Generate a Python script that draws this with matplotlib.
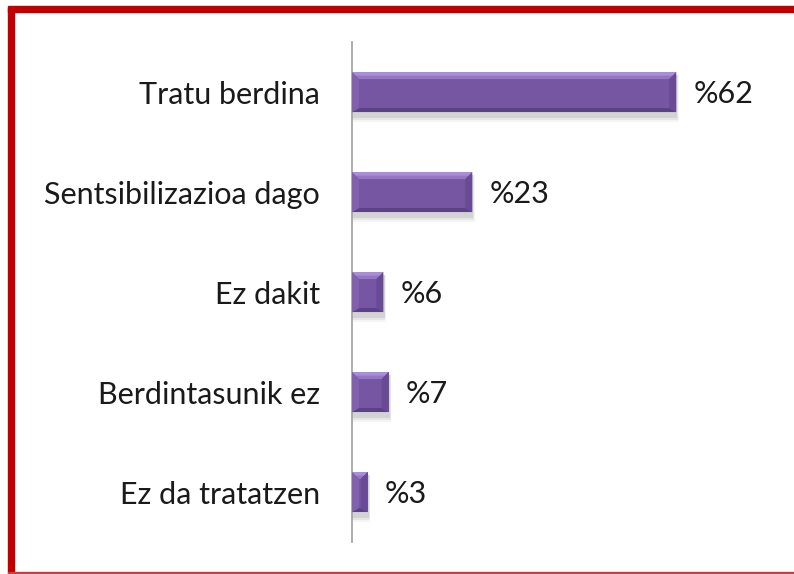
import matplotlib.pyplot as plt
from matplotlib.patches import Polygon, Rectangle

categories = ['Tratu berdina', 'Sentsibilizazioa dago', 'Ez dakit',
              'Berdintasunik ez', 'Ez da tratatzen']
values = [62, 23, 6, 7, 3]
value_labels = ['%62', '%23', '%6', '%7', '%3']

plt.rcParams['font.family'] = ['Lato', 'DejaVu Sans']

fig = plt.figure(figsize=(7.94, 5.74), dpi=100)
ax = fig.add_axes([0.4433, 0.0557, 0.527, 0.871])

pos = list(range(len(categories)))
h = 0.4
xmax = 80

# px -> data units for the bevel
px_x = xmax / (0.527 * 794)
px_y = 1 / 100.0

# soft shadow under each bar
for i, v in zip(pos, values):
    for k, a in [(7, 0.04), (5, 0.06), (3, 0.08)]:
        ax.add_patch(Rectangle((0, i - h / 2 + 3 * px_y), v + k * 0.4 * px_x, h + k * px_y,
                               color='#000000', alpha=a, lw=0, zorder=1))

ax.barh(pos, values, height=h, color='#7656a2', zorder=2)

for i, v in zip(pos, values):
    top = i - h / 2
    bot = i + h / 2
    bx = min(7 * px_x, v / 2)
    by = 7 * px_y
    bb = 4 * px_y
    # top bevel (light), two tones
    ax.add_patch(Polygon([(0, top), (v, top), (v - bx, top + by), (bx, top + by)],
                         closed=True, color='#9576c4', lw=0, zorder=3))
    ax.add_patch(Polygon([(0, top), (v, top), (v - bx / 2, top + by / 2), (bx / 2, top + by / 2)],
                         closed=True, color='#ab8ed8', lw=0, zorder=3))
    # bottom bevel (dark)
    ax.add_patch(Polygon([(0, bot), (v, bot), (v - bx, bot - bb), (bx, bot - bb)],
                         closed=True, color='#5a4283', lw=0, zorder=3))
    # left bevel
    ax.add_patch(Polygon([(0, top), (bx, top + by), (bx, bot - bb), (0, bot)],
                         closed=True, color='#8161ad', lw=0, zorder=3))
    # right bevel
    ax.add_patch(Polygon([(v, top), (v - bx, top + by), (v - bx, bot - bb), (v, bot)],
                         closed=True, color='#684b94', lw=0, zorder=3))
    ax.text(v + 17 * px_x, i + 0.02, value_labels[i], va='center', ha='left',
            fontsize=22, color='#1a1a1a')

ax.set_xlim(0, xmax)
ax.set_ylim(len(categories) - 0.5, -0.5)
ax.set_yticks(pos)
ax.set_yticklabels(categories, fontsize=22, color='#1a1a1a')
ax.tick_params(axis='y', length=0, pad=23)
ax.set_xticks([])
for s in ['top', 'right', 'bottom']:
    ax.spines[s].set_visible(False)
ax.spines['left'].set_color('#a0a0a0')
ax.spines['left'].set_linewidth(1.2)

# red frame
W, H = 794.0, 574.0
fig.patches.append(Rectangle((8 / W, 1 - 12 / H), 1 - 8 / W, 6 / H,
                             transform=fig.transFigure, color='#c00000', zorder=5))
fig.patches.append(Rectangle((8 / W, 1 - 573 / H), 6 / W, 565 / H,
                             transform=fig.transFigure, color='#c00000', zorder=5))
fig.patches.append(Rectangle((8 / W, 1 - 573 / H), 1 - 8 / W, 1.5 / H,
                             transform=fig.transFigure, color='#c84040', zorder=5))

fig.savefig('out.png', dpi=100)
